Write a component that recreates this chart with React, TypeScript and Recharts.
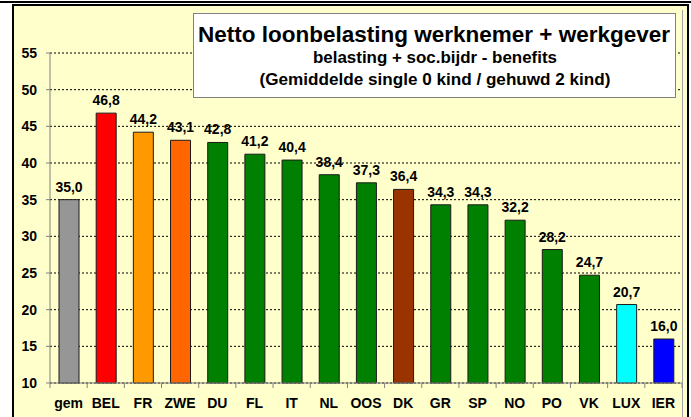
import React from 'react';
import { BarChart, Bar, XAxis, YAxis, CartesianGrid, Cell, LabelList } from 'recharts';

const countries = ['gem', 'BEL', 'FR', 'ZWE', 'DU', 'FL', 'IT', 'NL', 'OOS', 'DK', 'GR', 'SP', 'NO', 'PO', 'VK', 'LUX', 'IER'];
const taxValues = [35.0, 46.8, 44.2, 43.1, 42.8, 41.2, 40.4, 38.4, 37.3, 36.4, 34.3, 34.3, 32.2, 28.2, 24.7, 20.7, 16.0];
const barColors = [
  '#969696', '#FF0000', '#FF9900', '#FF6600', '#008000', '#008000', '#008000', '#008000',
  '#008000', '#993300', '#008000', '#008000', '#008000', '#008000', '#008000', '#00FFFF', '#0000FF',
];
const yTicks = [10, 15, 20, 25, 30, 35, 40, 45, 50, 55];

const titleLines = [
  'Netto loonbelasting werknemer + werkgever',
  'belasting + soc.bijdr - benefits',
  '(Gemiddelde single 0 kind / gehuwd 2 kind)',
];

const W = 691;
const H = 417;
const FONT = '"Liberation Sans", Arial, sans-serif';
const PLOT_LEFT = 50;
const PLOT_RIGHT = 682;
const HALF_BAND = (PLOT_RIGHT - PLOT_LEFT) / countries.length / 2;

const data = countries.map((name, i) => ({ name, value: taxValues[i], color: barColors[i] }));

const fmt = (v: number) => v.toFixed(1).replace('.', ',');

// category label plus the small tick marks that sit between categories
const CategoryTick = (props: any) => {
  const { x, y, payload, index } = props;
  const last = index === countries.length - 1;
  return (
    <g>
      <line x1={x - HALF_BAND} x2={x - HALF_BAND} y1={y} y2={y + 5} stroke="#808080" />
      {last && <line x1={x + HALF_BAND} x2={x + HALF_BAND} y1={y} y2={y + 5} stroke="#808080" />}
      <text x={x} y={y + 25} textAnchor="middle" fontSize={14} fontWeight="bold" fontFamily={FONT} fill="#000">
        {payload.value}
      </text>
    </g>
  );
};

export default function App() {
  return (
    <div style={{ position: 'absolute', left: 0, top: 0, width: W, height: H, background: '#fff', overflow: 'hidden' }}>
      <div style={{ position: 'absolute', left: 0, top: 1, width: W, height: 2, background: '#000' }} />
      <div
        style={{
          position: 'absolute', left: 12, top: 4, width: 677, height: H, boxSizing: 'border-box',
          background: '#FFFFCC', borderLeft: '2px solid #000', borderTop: '2px solid #000', borderRight: '2px solid #000',
        }}
      />
      <div style={{ position: 'absolute', left: 682, top: 10, width: 1, height: H, background: '#A0A0A0' }} />
      <div style={{ position: 'absolute', left: 0, top: 0 }}>
        <BarChart width={W} height={H} data={data} margin={{ top: 53, right: W - PLOT_RIGHT, bottom: 0, left: 0 }}>
          <CartesianGrid vertical={false} stroke="#000" strokeDasharray="2 2" />
          <XAxis
            dataKey="name"
            height={34}
            interval={0}
            tickLine={false}
            tickSize={0}
            tickMargin={0}
            axisLine={{ stroke: '#808080' }}
            tick={<CategoryTick />}
          />
          <YAxis
            width={PLOT_LEFT}
            domain={[10, 55]}
            ticks={yTicks}
            interval={0}
            tickSize={4}
            tickMargin={9}
            axisLine={{ stroke: '#808080' }}
            tickLine={{ stroke: '#808080' }}
            tick={{ fill: '#000', fontSize: 14, fontWeight: 'bold', fontFamily: FONT }}
          />
          <Bar dataKey="value" barSize={20} stroke="#1a1a1a" strokeWidth={1} isAnimationActive={false}>
            {data.map((entry, index) => (
              <Cell key={`cell-${index}`} fill={entry.color} />
            ))}
            <LabelList
              dataKey="value"
              position="top"
              offset={8}
              formatter={(v: any) => fmt(Number(v))}
              fill="#000"
              fontSize={14}
              fontWeight="bold"
              fontFamily={FONT}
            />
          </Bar>
        </BarChart>
      </div>
      <svg width={W} height={H} style={{ position: 'absolute', left: 0, top: 0, pointerEvents: 'none' }}>
        <rect x={193.5} y={13.5} width={482} height={84} fill="#fff" stroke="#808080" />
        <text x={434} y={42} textAnchor="middle" fontFamily={FONT} fontWeight="bold" fontSize={22}
          textLength={472} lengthAdjust="spacingAndGlyphs" fill="#000">{titleLines[0]}</text>
        <text x={435} y={63} textAnchor="middle" fontFamily={FONT} fontWeight="bold" fontSize={17}
          textLength={244} lengthAdjust="spacingAndGlyphs" fill="#000">{titleLines[1]}</text>
        <text x={435} y={85} textAnchor="middle" fontFamily={FONT} fontWeight="bold" fontSize={17}
          textLength={351} lengthAdjust="spacingAndGlyphs" fill="#000">{titleLines[2]}</text>
      </svg>
    </div>
  );
}
